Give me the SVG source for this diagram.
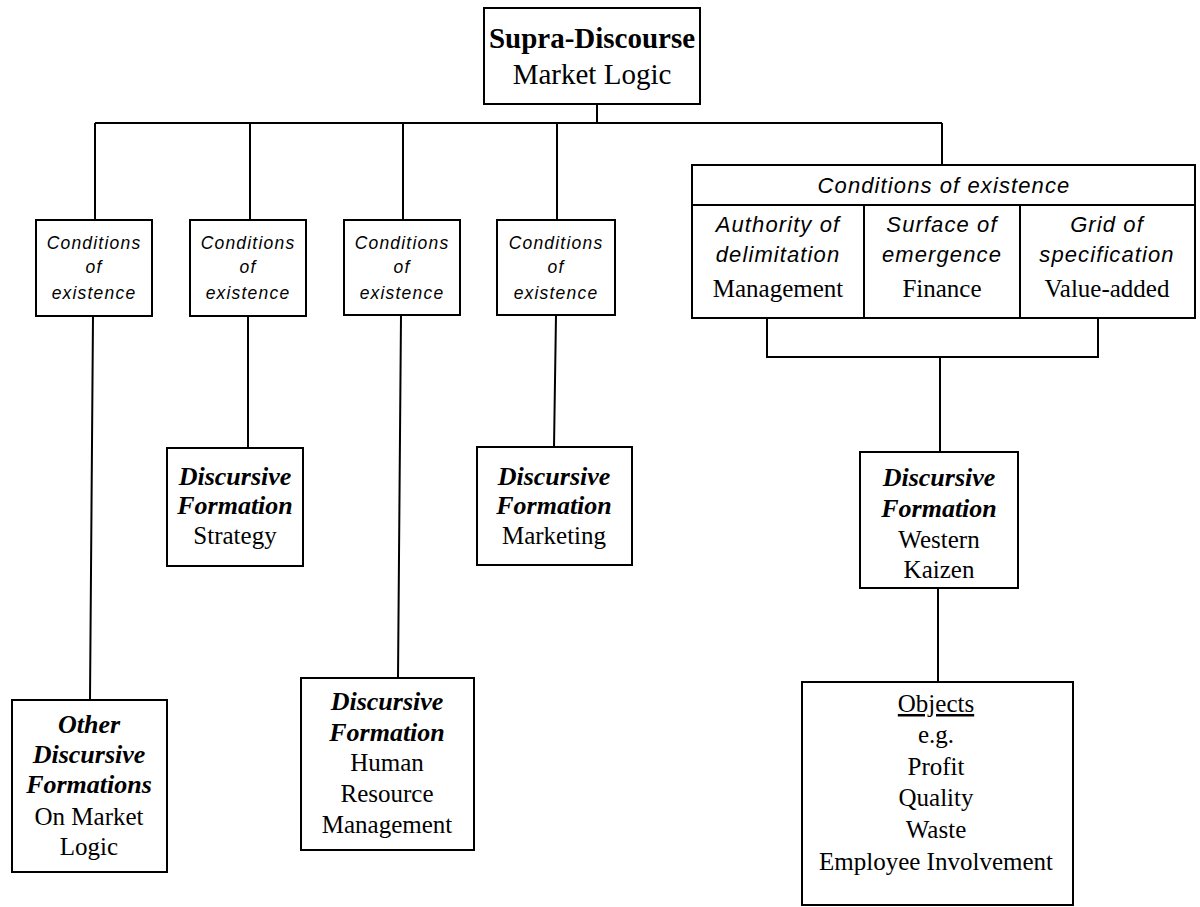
<svg xmlns="http://www.w3.org/2000/svg" width="1200" height="907" viewBox="0 0 1200 907">
<style>
.box{fill:#fff;stroke:#000;stroke-width:2}
.ln{fill:none;stroke:#000;stroke-width:2}
text{font-family:"Liberation Serif","Times New Roman",serif;fill:#000;text-anchor:middle}
.ci{font-family:"Liberation Sans",Arial,sans-serif;font-style:italic;font-size:17.5px;letter-spacing:1.2px}
.hi{font-family:"Liberation Sans",Arial,sans-serif;font-style:italic;font-size:22px;letter-spacing:1.1px}
.bi{font-weight:bold;font-style:italic;font-size:26px}
.rg{font-size:25px}
.tb{font-weight:bold;font-size:29px}
.tr{font-size:29px}
</style>
<rect width="1200" height="907" fill="#fff"/>
<g id="connectors">
<path class="ln" d="M597,104 V123 M95,123 H942 M95,123 V220 M250,123 V220 M403,123 V220 M557,123 V220 M942,123 V165"/>
<path class="ln" d="M93,316 L90,700 M248,316 V448 M401,315 L398,678 M556,315 L554,447"/>
<path class="ln" d="M767,318 V357 H1098 V318 M940,357 V452 M938,588 V682"/>
</g>
<g id="supra">
<rect class="box" x="484" y="8" width="216" height="96"/>
<text class="tb" x="592" y="48">Supra-Discourse</text>
<text class="tr" x="592" y="84">Market Logic</text>
</g>
<g id="cond1">
<rect class="box" x="36" y="220" width="116" height="96"/>
<text class="ci" x="94" y="249">Conditions</text>
<text class="ci" x="94" y="273">of</text>
<text class="ci" x="94" y="299">existence</text>
</g>
<g id="cond2">
<rect class="box" x="190" y="220" width="116" height="96"/>
<text class="ci" x="248" y="249">Conditions</text>
<text class="ci" x="248" y="273">of</text>
<text class="ci" x="248" y="299">existence</text>
</g>
<g id="cond3">
<rect class="box" x="344" y="220" width="116" height="95"/>
<text class="ci" x="402" y="249">Conditions</text>
<text class="ci" x="402" y="273">of</text>
<text class="ci" x="402" y="299">existence</text>
</g>
<g id="cond4">
<rect class="box" x="497" y="220" width="118" height="95"/>
<text class="ci" x="556" y="249">Conditions</text>
<text class="ci" x="556" y="273">of</text>
<text class="ci" x="556" y="299">existence</text>
</g>
<g id="cond5">
<rect class="box" x="692" y="165" width="503" height="153"/>
<path class="ln" d="M692,205 H1195 M864,205 V318 M1020,205 V318"/>
<text class="hi" x="944" y="193">Conditions of existence</text>
<text class="hi" x="778" y="232">Authority of</text>
<text class="hi" x="778" y="262">delimitation</text>
<text class="rg" x="778" y="297">Management</text>
<text class="hi" x="942" y="232">Surface of</text>
<text class="hi" x="942" y="262">emergence</text>
<text class="rg" x="942" y="297">Finance</text>
<text class="hi" x="1107" y="232">Grid of</text>
<text class="hi" x="1107" y="262">specification</text>
<text class="rg" x="1107" y="297">Value-added</text>
</g>
<g id="strategy">
<rect class="box" x="167" y="448" width="136" height="118"/>
<text class="bi" x="235" y="485">Discursive</text>
<text class="bi" x="235" y="514">Formation</text>
<text class="rg" x="235" y="544">Strategy</text>
</g>
<g id="marketing">
<rect class="box" x="477" y="447" width="155" height="118"/>
<text class="bi" x="554" y="485">Discursive</text>
<text class="bi" x="554" y="514">Formation</text>
<text class="rg" x="554" y="544">Marketing</text>
</g>
<g id="hrm">
<rect class="box" x="301" y="678" width="173" height="172"/>
<text class="bi" x="387" y="710">Discursive</text>
<text class="bi" x="387" y="741">Formation</text>
<text class="rg" x="387" y="771">Human</text>
<text class="rg" x="387" y="802">Resource</text>
<text class="rg" x="387" y="833">Management</text>
</g>
<g id="other">
<rect class="box" x="12" y="700" width="155" height="172"/>
<text class="bi" x="89" y="733">Other</text>
<text class="bi" x="89" y="763">Discursive</text>
<text class="bi" x="89" y="793">Formations</text>
<text class="rg" x="89" y="825">On Market</text>
<text class="rg" x="89" y="855">Logic</text>
</g>
<g id="kaizen">
<rect class="box" x="860" y="452" width="158" height="136"/>
<text class="bi" x="939" y="486">Discursive</text>
<text class="bi" x="939" y="517">Formation</text>
<text class="rg" x="939" y="548">Western</text>
<text class="rg" x="939" y="578">Kaizen</text>
</g>
<g id="objects">
<rect class="box" x="802" y="682" width="271" height="223"/>
<text class="rg" x="936" y="712" text-decoration="underline">Objects</text>
<text class="rg" x="936" y="743">e.g.</text>
<text class="rg" x="936" y="775">Profit</text>
<text class="rg" x="936" y="806">Quality</text>
<text class="rg" x="936" y="838">Waste</text>
<text class="rg" x="936" y="870">Employee Involvement</text>
</g>
</svg>
